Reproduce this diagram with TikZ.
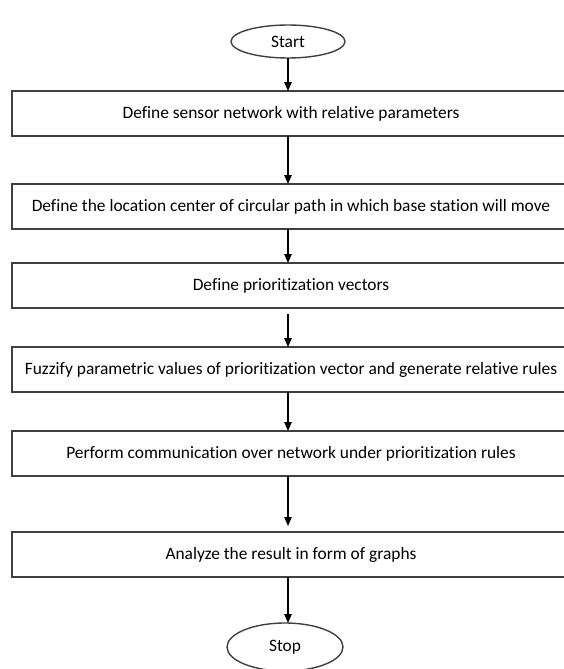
\documentclass[tikz,border=0pt]{standalone}
\usepackage{fontspec}
\setmainfont{Carlito}[Ligatures=CommonOff]
\usepackage{tikz}
\usetikzlibrary{positioning,shapes.geometric,arrows.meta}

\begin{document}
\begin{tikzpicture}[x=1pt, y=-1pt, line width=1.2pt,
                    >={Triangle[length=9pt,width=7.5pt]},
                    box node/.style={rectangle,draw=black!75,line width=1.5pt,minimum width=558pt,
                      minimum height=45pt,inner sep=0pt,outer sep=0pt,font=\fontsize{17.4}{21}\selectfont},
                    end node/.style={ellipse,draw=black!75,line width=1.4pt,minimum width=114pt,
                      minimum height=33pt,inner sep=0pt,outer sep=0pt,font=\fontsize{17.4}{21}\selectfont}]

  \clip (0,0) rectangle (564,669);
  \fill[white] (0,0) rectangle (564,669);

  \node[end node] (start) at (288,41.5) {Start};
  \node[box node] (1) [below=33pt of start, xshift=3pt] {Define sensor network with relative parameters};
  \node[box node] (2) [below=48pt of 1] {Define the location center of circular path in which base station will move};
  \node[box node] (3) [below=34pt of 2] {Define prioritization vectors};
  \node[box node] (4) [below=39pt of 3] {Fuzzify parametric values of prioritization vector and generate relative rules};
  \node[box node] (5) [below=39pt of 4] {Perform communication over network under prioritization rules};
  \node[box node] (6) [below=56pt of 5] {Analyze the result in form of graphs};
  \node[end node] (stop) [below=46pt of 6, xshift=-6pt, minimum width=116pt, minimum height=48pt] {Stop};

  \path[->]
    (start) edge (start |- 1.north)
    (1.south -| start) edge (2.north -| start)
    (2.south -| start) edge (3.north -| start)
    (3.south -| start) edge[shorten <=6pt] (4.north -| start)
    (4.south -| start) edge (5.north -| start)
    (5.south -| start) edge[shorten >=6pt] (6.north -| start)
    (6.south -| start) edge (stop.north -| start);
\end{tikzpicture}
\end{document}
